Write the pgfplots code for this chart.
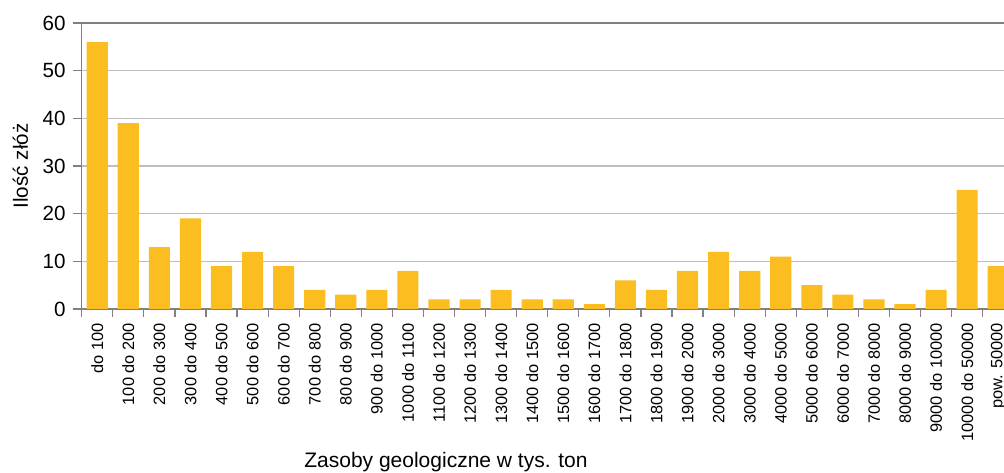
\documentclass[border=0pt]{standalone}
\usepackage{pgfplots}
\pgfplotsset{compat=1.18}
\usepackage{fontspec}
\setmainfont{Liberation Sans}
\definecolor{barc}{RGB}{251,189,32}
\definecolor{axc}{RGB}{128,128,128}
\definecolor{gridc}{RGB}{190,190,190}
\begin{document}
\begin{tikzpicture}
\begin{axis}[
  scale only axis,
  width=461.15pt, height=143pt,
  xmin=-0.5, xmax=29.185,
  ymin=0, ymax=60,
  ytick={0,10,...,60},
  axis x line*=box, axis y line*=left,
  axis line style={axc, line width=0.8pt},
  ymajorgrids,
  major grid style={gridc, line width=0.7pt},
  xtick={0,...,29},
  xticklabels={do 100,100 do 200,200 do 300,300 do 400,400 do 500,500 do 600,600 do 700,700 do 800,800 do 900,900 do 1000,1000 do 1100,1100 do 1200,1200 do 1300,1300 do 1400,1400 do 1500,1500 do 1600,1600 do 1700,1700 do 1800,1800 do 1900,1900 do 2000,2000 do 3000,3000 do 4000,4000 do 5000,5000 do 6000,6000 do 7000,7000 do 8000,8000 do 9000,9000 do 10000,10000 do 50000,pow. 50000},
  major x tick style={draw=none},
  minor xtick={-0.5,0.5,...,28.5},
  minor x tick style={axc, line width=0.6pt},
  minor tick length=4pt,
  x tick label style={rotate=90, anchor=east, font=\fontsize{8.2}{9}\selectfont},
  y tick label style={font=\fontsize{10.3}{12}\selectfont},
  /pgf/number format/assume math mode=true,
  ytick style={axc, line width=0.6pt},
  major tick length=4.5pt,
  tick align=outside,
  xtick pos=bottom, ytick pos=left,
  xticklabel shift=-1pt,
  ylabel={Ilość złóż},
  ylabel style={font=\fontsize{10.3}{12}\selectfont, yshift=0.5pt},
  xlabel={Zasoby geologiczne w tys. ton},
  xlabel style={font=\fontsize{10.5}{12}\selectfont, at={(rel axis cs:0.395,0)}, anchor=north, yshift=-68.3pt},
  clip=true,
]
\addplot[ybar, bar width=0.68, fill=barc, draw=none] coordinates {
(0,56) (1,39) (2,13) (3,19) (4,9) (5,12) (6,9) (7,4) (8,3) (9,4)
(10,8) (11,2) (12,2) (13,4) (14,2) (15,2) (16,1) (17,6) (18,4) (19,8)
(20,12) (21,8) (22,11) (23,5) (24,3) (25,2) (26,1) (27,4) (28,25) (29,9)
};
\end{axis}
\pgfresetboundingbox
\path ([xshift=-40.85pt,yshift=-82pt]current axis.south west) rectangle ([yshift=11.5pt]current axis.north east);
\end{tikzpicture}
\end{document}
